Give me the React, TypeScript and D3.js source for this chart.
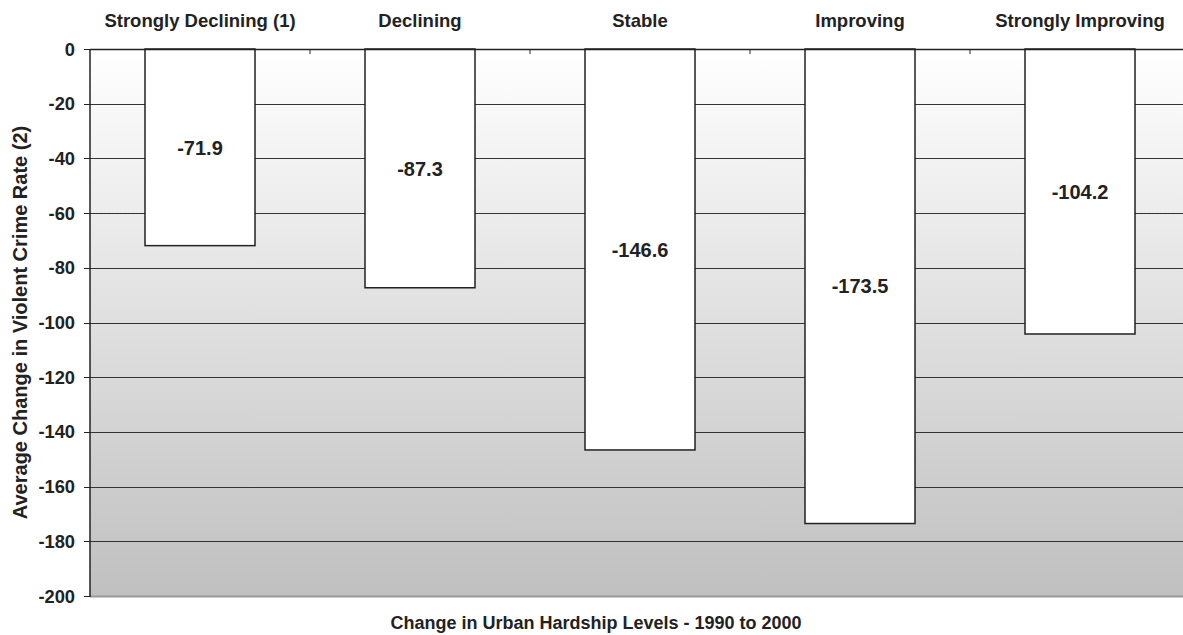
import React from "react";
import * as d3 from "d3";

const categories = ["Strongly Declining (1)", "Declining", "Stable", "Improving", "Strongly Improving"];
const values = [-71.9, -87.3, -146.6, -173.5, -104.2];
const yTicks = [0, -20, -40, -60, -80, -100, -120, -140, -160, -180, -200];
const valueLabels = ["-71.9", "-87.3", "-146.6", "-173.5", "-104.2"];

const W = 1183;
const H = 635;
const left = 90;
const right = 1190;
const top = 49;
const bottom = 596;
const FONT = "'Liberation Sans', Arial, sans-serif";

export default function App() {
  const x = d3.scaleBand<string>().domain(categories).range([left, right]).paddingInner(0.5).paddingOuter(0.25);
  const y = d3.scaleLinear().domain([-200, 0]).range([bottom, top]);
  const step = x.step();
  const boundaries = categories.slice(1).map((c) => (x(c) as number) - step * 0.25);
  boundaries.push(right);

  return (
    <svg width={W} height={H} style={{ position: "absolute", left: 0, top: 0, display: "block" }} fontFamily={FONT}>
      <defs>
        <linearGradient id="bg" x1="0" y1="0" x2="0" y2="1">
          <stop offset="0%" stopColor="#ffffff" />
          <stop offset="100%" stopColor="#c0c0c0" />
        </linearGradient>
      </defs>
      <rect x={left} y={top} width={right - left} height={bottom - top} fill="url(#bg)" />
      {yTicks.filter((t) => t !== 0 && t !== -200).map((t) => (
        <line key={t} x1={left} x2={right} y1={Math.round(y(t)) + 0.5} y2={Math.round(y(t)) + 0.5} stroke="#333" strokeWidth={1} />
      ))}
      {/* bottom border */}
      <line x1={left} x2={right} y1={bottom + 0.5} y2={bottom + 0.5} stroke="#999" strokeWidth={2} />
      {/* bars */}
      {categories.map((c, i) => (
        <rect key={c} x={(x(c) as number)} y={y(0)} width={x.bandwidth()} height={y(values[i]) - y(0)} fill="#ffffff" stroke="#222" strokeWidth={1.5} />
      ))}
      {/* zero line */}
      <line x1={left} x2={right} y1={top + 0.5} y2={top + 0.5} stroke="#222" strokeWidth={1.5} />
      {/* top inner ticks */}
      {boundaries.map((b, i) => (
        <line key={i} x1={b} x2={b} y1={top} y2={top + 5} stroke="#222" strokeWidth={1} />
      ))}
      {/* left axis */}
      <line x1={left} x2={left} y1={top} y2={bottom + 1} stroke="#222" strokeWidth={1.5} />
      {yTicks.map((t) => (
        <g key={t}>
          <line x1={left - 6} x2={left} y1={Math.round(y(t)) + 0.5} y2={Math.round(y(t)) + 0.5} stroke="#222" strokeWidth={1} />
          <text x={75} y={y(t)} dy="0.36em" textAnchor="end" fontSize={18.3} fontWeight="bold" fill="#222">{t}</text>
        </g>
      ))}
      {/* value labels */}
      {categories.map((c, i) => (
        <text key={c} x={(x(c) as number) + x.bandwidth() / 2} y={(y(0) + y(values[i])) / 2} dy="0.36em" textAnchor="middle" fontSize={20} fontWeight="bold" fill="#222">{valueLabels[i]}</text>
      ))}
      {/* category labels */}
      {categories.map((c) => (
        <text key={c} x={(x(c) as number) + x.bandwidth() / 2} y={27} textAnchor="middle" fontSize={18.5} fontWeight="bold" fill="#222">{c}</text>
      ))}
      <text x={596} y={629} textAnchor="middle" fontSize={18} fontWeight="bold" fill="#222">Change in Urban Hardship Levels - 1990 to 2000</text>
      <text transform={`translate(27, ${(top + bottom) / 2}) rotate(-90)`} textAnchor="middle" fontSize={20} fontWeight="bold" fill="#222">Average Change in Violent Crime Rate (2)</text>
    </svg>
  );
}
